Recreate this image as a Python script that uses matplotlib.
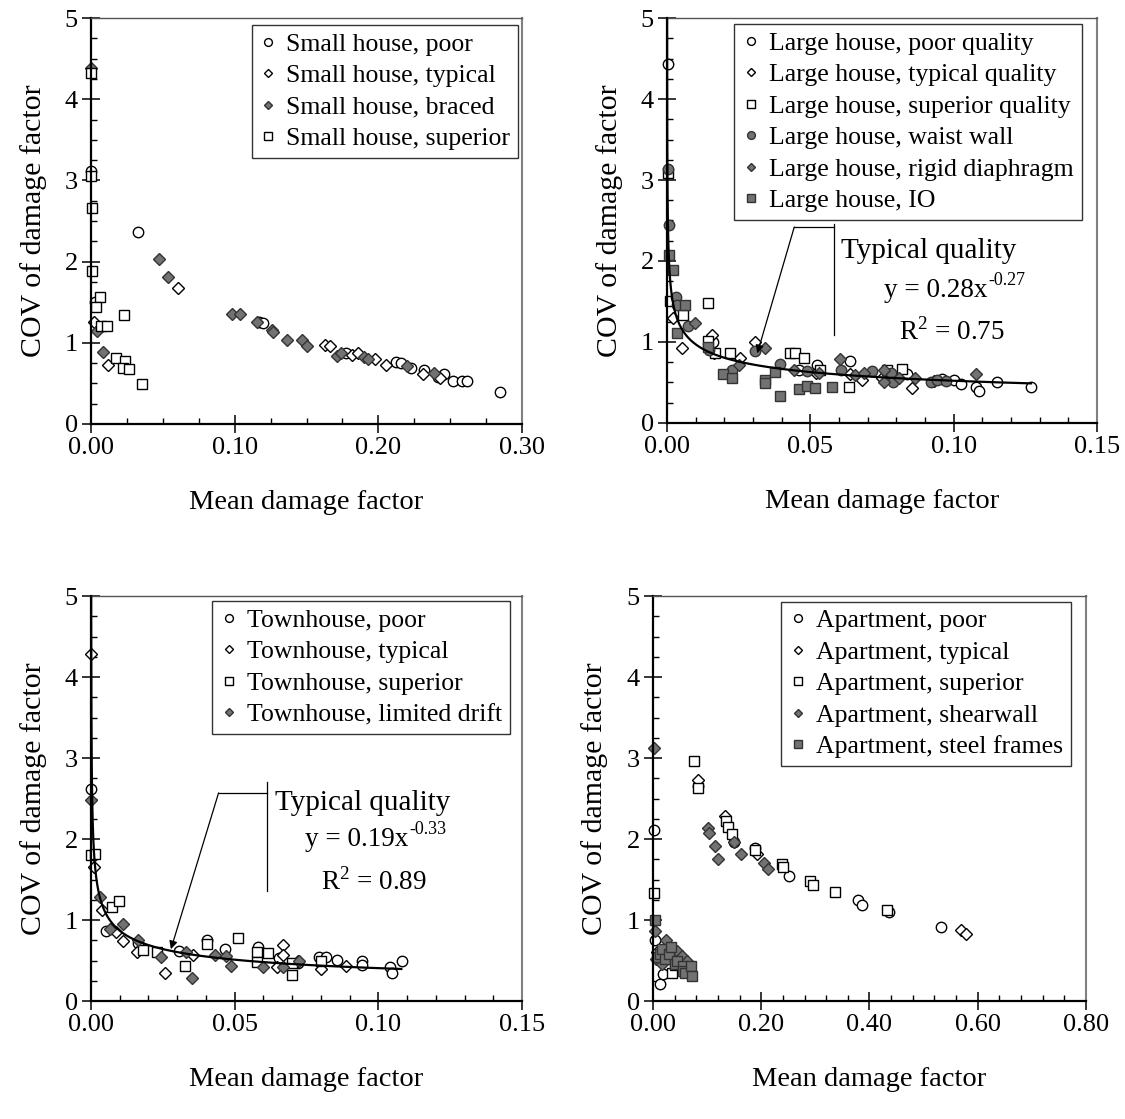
import numpy as np
import matplotlib
matplotlib.use("Agg")
import matplotlib.pyplot as plt
from matplotlib.ticker import MultipleLocator, FormatStrFormatter

plt.rcParams['font.family'] = ['Liberation Serif', 'DejaVu Serif']
plt.rcParams['mathtext.fontset'] = 'custom'
plt.rcParams['mathtext.rm'] = 'Liberation Serif'

# ---- Small house (top left) ----
sh_poor_x = [0.0, 0.003, 0.0326, 0.117, 0.120, 0.1776, 0.212, 0.216, 0.223, 0.232, 0.2415, 0.246, 0.252, 0.258, 0.262, 0.285]
sh_poor_y = [3.11, 1.50, 2.37, 1.25, 1.24, 0.88, 0.76, 0.75, 0.69, 0.66, 0.58, 0.62, 0.53, 0.53, 0.53, 0.40]
sh_typ_x = [0.0024, 0.0121, 0.0606, 0.163, 0.1664, 0.1816, 0.186, 0.198, 0.205, 0.231, 0.243]
sh_typ_y = [1.25, 0.73, 1.68, 0.97, 0.96, 0.85, 0.88, 0.80, 0.73, 0.62, 0.57]
sh_brc_x = [0.0, 0.0044, 0.0086, 0.0476, 0.0534, 0.098, 0.1037, 0.1154, 0.126, 0.127, 0.1364, 0.1466, 0.150, 0.171, 0.174, 0.190, 0.193, 0.220, 0.239]
sh_brc_y = [4.38, 1.15, 0.89, 2.03, 1.81, 1.35, 1.35, 1.25, 1.16, 1.13, 1.03, 1.04, 0.96, 0.84, 0.88, 0.83, 0.80, 0.72, 0.63]
sh_sup_x = [0.0, 0.0, 0.001, 0.001, 0.0063, 0.0035, 0.0072, 0.0114, 0.0231, 0.0175, 0.0238, 0.0222, 0.0261, 0.0357]
sh_sup_y = [4.32, 3.05, 2.66, 1.89, 1.56, 1.44, 1.21, 1.21, 1.34, 0.81, 0.78, 0.69, 0.68, 0.49]

# ---- Large house (top right) ----
lh_poor_x = [0.0005, 0.016, 0.046, 0.0523, 0.0637, 0.0838, 0.096, 0.100, 0.1027, 0.1077, 0.1089, 0.115, 0.127]
lh_poor_y = [4.43, 1.00, 0.65, 0.72, 0.76, 0.60, 0.54, 0.53, 0.48, 0.44, 0.40, 0.51, 0.44]
lh_typ_x = [0.002, 0.0054, 0.0156, 0.0165, 0.0253, 0.0308, 0.052, 0.064, 0.068, 0.075, 0.0856, 0.093]
lh_typ_y = [1.30, 0.93, 1.09, 0.86, 0.80, 1.00, 0.62, 0.60, 0.53, 0.55, 0.43, 0.52]
lh_sup_x = [0.0005, 0.001, 0.0057, 0.0144, 0.0144, 0.0166, 0.022, 0.043, 0.0448, 0.0477, 0.0532, 0.0634, 0.0766, 0.082]
lh_sup_y = [3.09, 1.50, 1.33, 1.48, 1.01, 0.86, 0.86, 0.86, 0.86, 0.80, 0.66, 0.45, 0.66, 0.67]
lh_waist_x = [0.0005, 0.0007, 0.0031, 0.0035, 0.0072, 0.0145, 0.0227, 0.0308, 0.0395, 0.0488, 0.0608, 0.0716, 0.078, 0.0789, 0.092, 0.0943, 0.0972]
lh_waist_y = [3.14, 2.44, 1.56, 1.46, 1.20, 0.90, 0.65, 0.89, 0.73, 0.64, 0.65, 0.64, 0.62, 0.51, 0.51, 0.53, 0.52]
lh_rigid_x = [0.0098, 0.025, 0.0343, 0.0442, 0.053, 0.0605, 0.0657, 0.0686, 0.0757, 0.0757, 0.0809, 0.0865, 0.1077]
lh_rigid_y = [1.24, 0.72, 0.92, 0.65, 0.62, 0.79, 0.59, 0.62, 0.65, 0.50, 0.56, 0.55, 0.60]
lh_io_x = [0.0007, 0.002, 0.0063, 0.0036, 0.0144, 0.0197, 0.0228, 0.0343, 0.0343, 0.0378, 0.0395, 0.046, 0.0488, 0.0517, 0.0576]
lh_io_y = [2.07, 1.89, 1.46, 1.11, 0.94, 0.60, 0.56, 0.53, 0.49, 0.63, 0.33, 0.42, 0.46, 0.43, 0.45]

# ---- Townhouse (bottom left) ----
th_poor_x = [0.0, 0.0052, 0.0165, 0.0305, 0.0402, 0.0465, 0.058, 0.0655, 0.072, 0.0795, 0.0818, 0.0857, 0.0944, 0.0944, 0.104, 0.1048, 0.1084]
th_poor_y = [2.62, 0.87, 0.72, 0.62, 0.76, 0.64, 0.67, 0.53, 0.47, 0.55, 0.55, 0.51, 0.50, 0.44, 0.42, 0.35, 0.49]
th_typ_x = [0.0, 0.001, 0.0037, 0.0087, 0.0113, 0.016, 0.0258, 0.0355, 0.0647, 0.0667, 0.0667, 0.072, 0.080, 0.0886]
th_typ_y = [4.28, 1.65, 1.12, 0.85, 0.74, 0.61, 0.35, 0.57, 0.42, 0.69, 0.57, 0.50, 0.40, 0.43]
th_sup_x = [0.0, 0.0014, 0.0072, 0.0096, 0.018, 0.0229, 0.0326, 0.0404, 0.0512, 0.0577, 0.0577, 0.0617, 0.0698, 0.0698, 0.080]
th_sup_y = [1.80, 1.81, 1.16, 1.24, 0.63, 0.61, 0.43, 0.70, 0.78, 0.61, 0.48, 0.59, 0.47, 0.32, 0.49]
th_ld_x = [0.0, 0.0031, 0.0066, 0.011, 0.0165, 0.0245, 0.0332, 0.0352, 0.0433, 0.0469, 0.0486, 0.060, 0.0667, 0.0725]
th_ld_y = [2.48, 1.29, 0.89, 0.95, 0.75, 0.54, 0.60, 0.28, 0.57, 0.56, 0.43, 0.42, 0.42, 0.50]

# ---- Apartment (bottom right) ----
ap_poor_x = [0.0025, 0.004, 0.013, 0.019, 0.03, 0.083, 0.150, 0.188, 0.252, 0.379, 0.387, 0.436, 0.533]
ap_poor_y = [2.11, 0.75, 0.21, 0.33, 0.55, 2.65, 1.96, 1.89, 1.55, 1.25, 1.19, 1.10, 0.91]
ap_typ_x = [0.007, 0.083, 0.133, 0.193, 0.570, 0.578]
ap_typ_y = [0.60, 2.73, 2.29, 1.81, 0.88, 0.83]
ap_sup_x = [0.0025, 0.0345, 0.04, 0.0757, 0.083, 0.1348, 0.139, 0.1453, 0.188, 0.238, 0.241, 0.290, 0.296, 0.336, 0.432]
ap_sup_y = [1.33, 0.35, 0.45, 2.96, 2.63, 2.22, 2.15, 2.06, 1.87, 1.69, 1.65, 1.48, 1.43, 1.35, 1.12]
ap_shw_x = [0.0025, 0.004, 0.006, 0.017, 0.025, 0.045, 0.053, 0.063, 0.102, 0.104, 0.1145, 0.1206, 0.150, 0.162, 0.205, 0.212]
ap_shw_y = [3.12, 0.87, 0.52, 0.46, 0.76, 0.62, 0.56, 0.49, 2.14, 2.08, 1.91, 1.76, 1.97, 1.81, 1.70, 1.63]
ap_stl_x = [0.004, 0.008, 0.013, 0.016, 0.022, 0.03, 0.033, 0.041, 0.045, 0.056, 0.056, 0.06, 0.071, 0.073]
ap_stl_y = [1.00, 0.55, 0.58, 0.64, 0.52, 0.58, 0.67, 0.46, 0.50, 0.43, 0.37, 0.35, 0.43, 0.31]

# power-law fits written on the chart: coefficient, exponent, last x, R2
lh_fit = (0.28, -0.27, 0.127, 0.75)
th_fit = (0.19, -0.33, 0.108, 0.89)

GREY = '#727272'
open_c = dict(marker='o', mfc='white', mec='black', ms=7.5)
open_d = dict(marker='D', mfc='white', mec='black', ms=5.8)
open_s = dict(marker='s', mfc='white', mec='black', ms=7.5)
fill_c = dict(marker='o', mfc=GREY, mec='#333333', ms=7.5)
fill_d = dict(marker='D', mfc=GREY, mec='#333333', ms=5.8)
fill_s = dict(marker='s', mfc=GREY, mec='#333333', ms=7.5)

fig = plt.figure(figsize=(11.25, 11.19), dpi=100)
ax1 = fig.add_axes([0.0809, 0.6211, 0.3831, 0.3628])
ax2 = fig.add_axes([0.5929, 0.6220, 0.3822, 0.3619])
ax3 = fig.add_axes([0.0809, 0.1054, 0.3831, 0.3619])
ax4 = fig.add_axes([0.5804, 0.1054, 0.3849, 0.3619])


def style_axes(ax, xmax, xmajor, xminor):
    ax.set_xlim(0, xmax)
    ax.set_ylim(0, 5)
    ax.xaxis.set_major_locator(MultipleLocator(xmajor))
    ax.xaxis.set_minor_locator(MultipleLocator(xminor))
    ax.xaxis.set_major_formatter(FormatStrFormatter('%.2f'))
    ax.yaxis.set_major_locator(MultipleLocator(1))
    ax.yaxis.set_minor_locator(MultipleLocator(0.25))
    ax.tick_params(which='major', direction='inout', length=13, width=1.1, labelsize=19, pad=3)
    ax.tick_params(which='minor', direction='in', length=4.5, width=1.0)
    ax.tick_params(top=False, right=False, which='both')
    for s in ['left', 'bottom']:
        ax.spines[s].set_linewidth(1.6)
        ax.spines[s].set_color('black')
    ax.spines['top'].set_linewidth(1.0)
    ax.spines['top'].set_color('#555555')
    ax.spines['right'].set_linewidth(1.5)
    ax.spines['right'].set_color('#808080')
    ax.set_xlabel('Mean damage factor', fontsize=20.5, labelpad=22)
    ax.set_ylabel('COV of damage factor', fontsize=21.5, labelpad=13)


def add_legend(ax, ax_x, ax_y):
    leg = ax.legend(loc='upper right', bbox_to_anchor=(ax_x, ax_y), borderaxespad=0,
                    fontsize=18.5, frameon=True, fancybox=False, framealpha=1,
                    edgecolor='#333333', markerscale=0.75, handlelength=0.7,
                    handletextpad=0.35, labelspacing=0.33, borderpad=0.3)
    leg.get_frame().set_linewidth(1.0)


def add_fit(ax, fit, title_xy, eq_xy, r2_xy, corner, tip):
    a, b, xend, r2 = fit
    xs = np.geomspace(1e-5, xend, 400)
    ax.plot(xs, a * xs ** b, color='black', lw=1.6, zorder=4)
    ax.text(title_xy[0], title_xy[1], 'Typical quality', fontsize=21, ha='center', va='center')
    # base of the equation ends where the exponent starts
    ax.text(eq_xy[0], eq_xy[1], f'y = {a:.2f}x', fontsize=19.5, ha='right', va='center')
    ax.annotate(f'{b:.2f}', xy=eq_xy, xytext=(0.5, 7), textcoords='offset points',
                fontsize=13, ha='left', va='center')
    ax.text(r2_xy[0], r2_xy[1], r'R$^{\mathregular{2}}$' + f' = {r2:.2f}', fontsize=19.5,
            ha='center', va='center')
    (vx, vtop, vbot), (hx, hy) = corner
    ax.plot([vx, vx], [vtop, vbot], color='black', lw=0.9)
    ax.plot([vx, hx], [hy, hy], color='black', lw=0.9)
    ax.annotate('', xy=tip, xytext=(hx, hy),
                arrowprops=dict(arrowstyle='-|>', color='black', lw=0.9,
                                mutation_scale=12, shrinkA=0, shrinkB=0))


# top left
ax1.plot(sh_poor_x, sh_poor_y, ls='none', label='Small house, poor', **open_c)
ax1.plot(sh_typ_x, sh_typ_y, ls='none', label='Small house, typical', **open_d)
ax1.plot(sh_brc_x, sh_brc_y, ls='none', label='Small house, braced', **fill_d)
ax1.plot(sh_sup_x, sh_sup_y, ls='none', label='Small house, superior', **open_s)
style_axes(ax1, 0.30, 0.10, 0.025)
add_legend(ax1, 0.991, 0.983)

# top right
ax2.plot(lh_poor_x, lh_poor_y, ls='none', label='Large house, poor quality', **open_c)
ax2.plot(lh_typ_x, lh_typ_y, ls='none', label='Large house, typical quality', **open_d)
ax2.plot(lh_sup_x, lh_sup_y, ls='none', label='Large house, superior quality', **open_s)
ax2.plot(lh_waist_x, lh_waist_y, ls='none', label='Large house, waist wall', **fill_c)
ax2.plot(lh_rigid_x, lh_rigid_y, ls='none', label='Large house, rigid diaphragm', **fill_d)
ax2.plot(lh_io_x, lh_io_y, ls='none', label='Large house, IO', **fill_s)
style_axes(ax2, 0.15, 0.05, 0.01)
add_legend(ax2, 0.964, 0.985)
add_fit(ax2, lh_fit, (0.0913, 2.12), (0.1118, 1.64), (0.0993, 1.13),
        ((0.0584, 2.46, 1.09), (0.0444, 2.42)), (0.0315, 0.86))

# bottom left
ax3.plot(th_poor_x, th_poor_y, ls='none', label='Townhouse, poor', **open_c)
ax3.plot(th_typ_x, th_typ_y, ls='none', label='Townhouse, typical', **open_d)
ax3.plot(th_sup_x, th_sup_y, ls='none', label='Townhouse, superior', **open_s)
ax3.plot(th_ld_x, th_ld_y, ls='none', label='Townhouse, limited drift', **fill_d)
style_axes(ax3, 0.15, 0.05, 0.01)
add_legend(ax3, 0.972, 0.988)
add_fit(ax3, th_fit, (0.0944, 2.45), (0.1106, 2.00), (0.0986, 1.48),
        ((0.0614, 2.70, 1.36), (0.0444, 2.57)), (0.0278, 0.64))

# bottom right
ax4.plot(ap_poor_x, ap_poor_y, ls='none', label='Apartment, poor', **open_c)
ax4.plot(ap_typ_x, ap_typ_y, ls='none', label='Apartment, typical', **open_d)
ax4.plot(ap_sup_x, ap_sup_y, ls='none', label='Apartment, superior', **open_s)
ax4.plot(ap_shw_x, ap_shw_y, ls='none', label='Apartment, shearwall', **fill_d)
ax4.plot(ap_stl_x, ap_stl_y, ls='none', label='Apartment, steel frames', **fill_s)
style_axes(ax4, 0.80, 0.20, 0.04)
add_legend(ax4, 0.965, 0.986)

for ax in [ax1, ax2, ax3, ax4]:
    for ln in ax.lines:
        if ln.get_linestyle() == 'None':
            ln.set_clip_on(False)
            ln.set_markeredgewidth(1.0)

fig.savefig('out.png', dpi=100)
